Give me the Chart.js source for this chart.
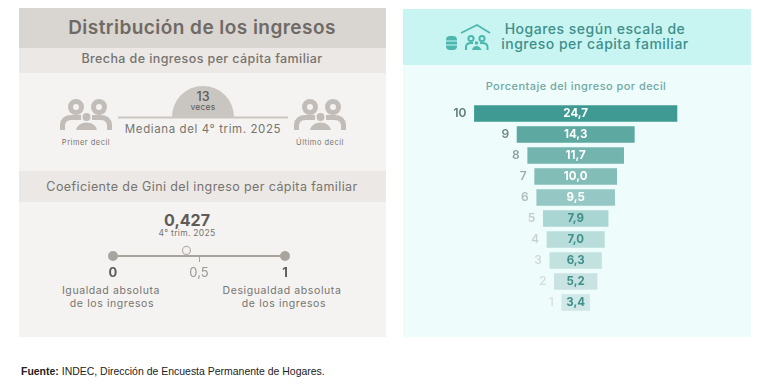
<!DOCTYPE html>
<html lang="es">
<head>
<meta charset="utf-8">
<title>Distribución de los ingresos</title>
<script src="https://cdn.jsdelivr.net/npm/chart.js@4/dist/chart.umd.min.js"></script>
<style>
html, body { margin: 0; padding: 0; background: #fff; width: 760px; height: 389px; overflow: hidden; }
body { position: relative; font-family: Inter, "Open Sans", sans-serif; color: #77736f; }
.box { position: absolute; }
.t { position: absolute; transform: translate(-50%, -50%); white-space: nowrap; line-height: 1; }
canvas { position: absolute; }
svg { position: absolute; }
</style>
</head>
<body>
<div class="box" style="left:19px;top:8px;width:367px;height:329px;background:#f4f3f1"></div>
<div class="box" style="left:19px;top:8px;width:367px;height:40px;background:#d9d5d0"></div>
<div class="box" style="left:19px;top:48px;width:367px;height:25px;background:#ebe8e5"></div>
<div class="box" style="left:19px;top:171px;width:367px;height:31px;background:#ebe8e5"></div>

<div class="box" style="left:403px;top:9px;width:348px;height:328px;background:#effcfc"></div>
<div class="box" style="left:403px;top:9px;width:348px;height:56px;background:#c8f5f2"></div>

<div class="t" style="left:202px;top:27px;font-size:19px;font-weight:600;letter-spacing:.45px;color:#6f6a66">Distribución de los ingresos</div>
<div class="t" style="left:202px;top:59px;font-size:12.5px;font-weight:500;letter-spacing:.4px">Brecha de ingresos per cápita familiar</div>

<svg style="left:0;top:80px" width="400" height="60" viewBox="0 80 400 60">
  <path d="M172 117 A31 31 0 0 1 234 117 Z" fill="#c9c5c0"/>
  <rect x="118" y="116.5" width="170" height="2" fill="#c9c5c0"/>
  <g id="people" fill="#c2bdb8">
    <circle cx="76" cy="107" r="5.5" fill="none" stroke="#c2bdb8" stroke-width="5"/>
    <circle cx="99" cy="107" r="5.5" fill="none" stroke="#c2bdb8" stroke-width="5"/>
    <circle cx="86.5" cy="117" r="4"/>
    <path d="M62.5 130 V125 Q63 117.5 72 117.5 H81" fill="none" stroke="#c2bdb8" stroke-width="5"/>
    <path d="M109.5 130 V125 Q109 117.5 100 117.5 H92" fill="none" stroke="#c2bdb8" stroke-width="5"/>
    <path d="M76 130 Q78 122.5 86.5 122.5 Q95 122.5 97 130 Z"/>
  </g>
  <use href="#people" x="234"/>
</svg>

<div class="t" style="left:203px;top:97px;font-size:12.5px;font-weight:500;color:#5f5b58">13</div>
<div class="t" style="left:203px;top:107px;font-size:8.5px;letter-spacing:.2px;color:#5f5b58">veces</div>
<div class="t" style="left:203px;top:130px;font-size:11.5px;letter-spacing:.6px">Mediana del 4° trim. 2025</div>
<div class="t" style="left:86px;top:143px;font-size:7.5px;letter-spacing:.5px">Primer decil</div>
<div class="t" style="left:320px;top:143px;font-size:7.5px;letter-spacing:.5px">Último decil</div>

<div class="t" style="left:202px;top:187px;font-size:12.5px;letter-spacing:.4px">Coeficiente de Gini del ingreso per cápita familiar</div>
<div class="t" style="left:187px;top:220px;font-size:16px;font-weight:700;color:#5f5b58">0,427</div>
<div class="t" style="left:187px;top:233px;font-size:8.5px;letter-spacing:.3px">4° trim. 2025</div>

<canvas id="giniChart" style="left:63px;top:230px;width:272px;height:52px"></canvas>

<div class="t" style="left:111px;top:291px;font-size:10.5px;letter-spacing:.6px">Igualdad absoluta</div>
<div class="t" style="left:112px;top:304px;font-size:10.5px;letter-spacing:.6px">de los ingresos</div>
<div class="t" style="left:282px;top:291px;font-size:10.5px;letter-spacing:.6px">Desigualdad absoluta</div>
<div class="t" style="left:284px;top:304px;font-size:10.5px;letter-spacing:.6px">de los ingresos</div>

<svg style="left:440px;top:18px" width="56" height="38" viewBox="440 18 56 38" fill="#4db7ae">
  <path d="M461 33 L477 25 L490 33" fill="none" stroke="#4db7ae" stroke-width="1.8"/>
  <rect x="446" y="36" width="11" height="14" rx="4"/>
  <path d="M446 41 H457 M446 45 H457" stroke="#c8f5f2" stroke-width="1"/>
  <circle cx="471" cy="38.5" r="2.6" fill="none" stroke="#4db7ae" stroke-width="2"/>
  <circle cx="482" cy="38.5" r="2.6" fill="none" stroke="#4db7ae" stroke-width="2"/>
  <circle cx="476.5" cy="43" r="1.8"/>
  <path d="M466 50 V46.5 Q466.5 43 471 43 H473" fill="none" stroke="#4db7ae" stroke-width="2"/>
  <path d="M487.5 50 V46.5 Q487 43 482 43 H480" fill="none" stroke="#4db7ae" stroke-width="2"/>
  <path d="M472 50 Q473 46 476.5 46 Q480 46 481.5 50 Z"/>
</svg>
<div class="t" style="left:595px;top:29px;font-size:14px;font-weight:500;letter-spacing:.5px;color:#3f8f8b">Hogares según escala de</div>
<div class="t" style="left:595px;top:44px;font-size:14px;font-weight:500;letter-spacing:.5px;color:#3f8f8b">ingreso per cápita familiar</div>
<div class="t" style="left:576px;top:86px;font-size:11px;font-weight:500;letter-spacing:.45px;color:#6fa8a5">Porcentaje del ingreso por decil</div>

<canvas id="decilChart" style="left:403px;top:103px;width:348px;height:210px"></canvas>

<div style="position:absolute;left:21px;top:366px;font:10.47px 'Liberation Sans',Arial,sans-serif;color:#222;white-space:nowrap"><b>Fuente:</b> INDEC, Dirección de Encuesta Permanente de Hogares.</div>

<script>
var deciles = ["10", "9", "8", "7", "6", "5", "4", "3", "2", "1"];
var ingresos = [24.7, 14.3, 11.7, 10.0, 9.5, 7.9, 7.0, 6.3, 5.2, 3.4];
var barColors = ["#3e9a92", "#5da8a1", "#74b4ae", "#82bdb8", "#95c8c4", "#a9d6d3", "#b9dddb", "#c2e2e0", "#c8e3e2", "#d0e9e8"];
var decilColors = ["#5f7a78", "#6f8b89", "#86a09e", "#9aaeac", "#aebdbc", "#c2cccb", "#c9d2d1", "#d0d8d7", "#d5dddc", "#dbe2e1"];
var valueColors = ["#fff", "#fff", "#fff", "#fff", "#fff", "#3f8f8b", "#3f8f8b", "#3f8f8b", "#3f8f8b", "#3f8f8b"];

var giniEnds = [0, 1];
var giniValue = 0.427;
var giniTicks = [0, 0.5, 1];

function coma(v) {
  return v.toFixed(1).replace(".", ",");
}

// the bars are centred around zero, so each one runs from -v/2 to v/2
var barRanges = ingresos.map(function (v) { return [-v / 2, v / 2]; });

var decilLabels = {
  id: "decilLabels",
  afterDatasetsDraw: function (chart) {
    var ctx = chart.ctx;
    var bars = chart.getDatasetMeta(0).data;
    ctx.save();
    ctx.textBaseline = "middle";
    bars.forEach(function (bar, i) {
      ctx.font = "700 11.5px Inter";
      ctx.textAlign = "center";
      ctx.fillStyle = valueColors[i];
      ctx.fillText(coma(ingresos[i]), chart.scales.x.getPixelForValue(0), bar.y);
      ctx.font = "600 12px Inter";
      ctx.textAlign = "right";
      ctx.fillStyle = decilColors[i];
      ctx.fillText(deciles[i], chart.scales.x.getPixelForValue(-ingresos[i] / 2) - 8, bar.y);
    });
    ctx.restore();
  }
};

new Chart(document.getElementById("decilChart"), {
  type: "bar",
  data: {
    labels: deciles,
    datasets: [{ data: barRanges, backgroundColor: barColors, barThickness: 16, borderSkipped: false }]
  },
  options: {
    indexAxis: "y",
    responsive: false,
    animation: false,
    plugins: { legend: { display: false }, tooltip: { enabled: false } },
    scales: {
      x: { display: false, min: -21.06, max: 21.38 },
      y: { display: false }
    }
  },
  plugins: [decilLabels]
});

function isMiddle(c) {
  return c.tick && c.tick.value === 0.5;
}

new Chart(document.getElementById("giniChart"), {
  type: "scatter",
  data: {
    datasets: [
      {
        data: giniEnds.map(function (v) { return { x: v, y: 0 }; }),
        showLine: true,
        borderColor: "#aaa49f",
        borderWidth: 2,
        pointRadius: 5,
        pointBackgroundColor: "#aaa49f",
        pointBorderWidth: 0,
        clip: false
      },
      {
        data: [{ x: giniValue, y: 0.27 }],
        pointRadius: 4,
        pointBackgroundColor: "#f4f3f1",
        pointBorderColor: "#b5b0ab",
        pointBorderWidth: 1.2,
        clip: false
      }
    ]
  },
  options: {
    responsive: false,
    animation: false,
    layout: { padding: { left: 50, right: 50, top: 0, bottom: 0 } },
    plugins: { legend: { display: false }, tooltip: { enabled: false } },
    scales: {
      x: {
        type: "linear",
        min: 0,
        max: 1,
        afterBuildTicks: function (axis) {
          axis.ticks = giniTicks.map(function (v) { return { value: v }; });
        },
        border: { display: false },
        grid: {
          drawOnChartArea: false,
          tickLength: 6,
          tickColor: function (c) { return isMiddle(c) ? "#aaa49f" : "transparent"; }
        },
        ticks: {
          maxRotation: 0,
          padding: 3,
          color: function (c) { return isMiddle(c) ? "#9b9692" : "#5f5b58"; },
          font: function (c) { return { family: "Inter", size: 13, weight: isMiddle(c) ? "400" : "700" }; },
          callback: function (v) { return String(v).replace(".", ","); }
        }
      },
      y: { display: false, min: 0, max: 1 }
    }
  }
});
</script>
</body>
</html>
